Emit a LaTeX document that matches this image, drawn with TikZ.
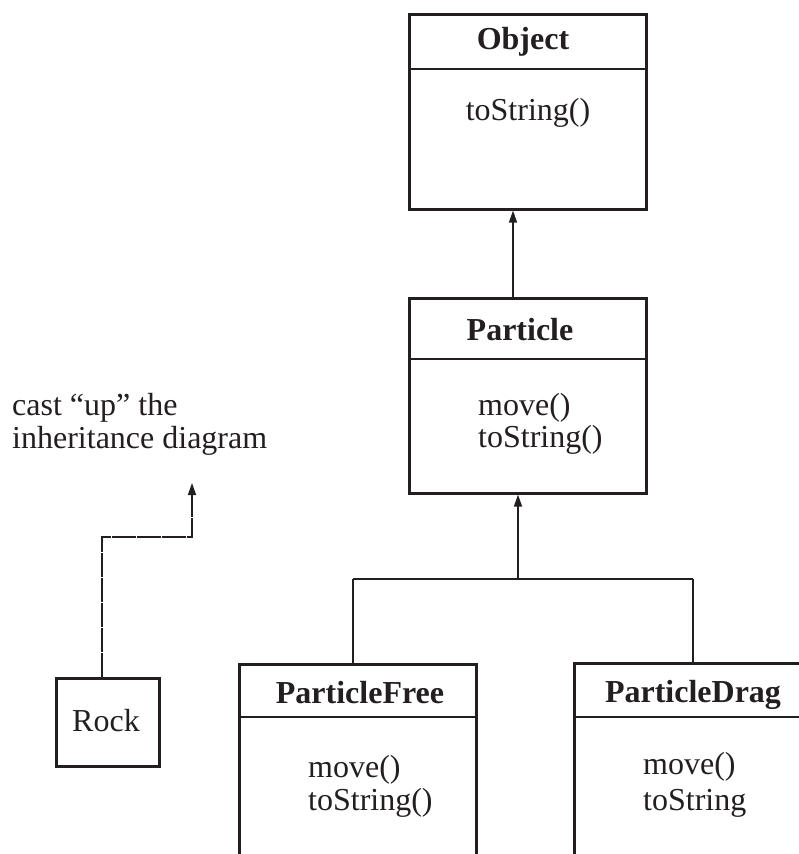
\documentclass[tikz,border=0pt]{standalone}
\usepackage{fontspec}
\setmainfont{Liberation Serif}
\usetikzlibrary{arrows.meta}
\definecolor{ink}{HTML}{231F20}
\begin{document}
\begin{tikzpicture}[x=1pt,y=-1pt,
  box/.style={draw=ink,line width=2.6pt,inner sep=0pt,anchor=north west},
  sepline/.style={draw=ink,line width=2pt},
  conn/.style={draw=ink,line width=1.5pt},
  arr/.style={conn,-{Triangle[length=12pt,width=8pt]}},
  dashline/.style={draw=ink,line width=1.5pt,dash pattern=on 24pt off 1pt,-{Triangle[length=12pt,width=8pt]}},
  title/.style={text=ink,font=\fontsize{32}{33}\selectfont\bfseries,inner sep=0pt},
  meth/.style={text=ink,font=\fontsize{32}{33}\selectfont,inner sep=0pt,anchor=west},
  plain/.style={text=ink,font=\fontsize{32}{33}\selectfont,inner sep=0pt},
]
\clip (0,0) rectangle (799,854);
\fill[white] (0,0) rectangle (799,854);
% boxes
\node[box,minimum width=237pt,minimum height=195pt] (object) at (408,13) {};
\node[box,minimum width=237pt,minimum height=195pt] (particle) at (408,297) {};
\node[box,minimum width=237pt,minimum height=240pt] (pfree) at (238,663) {};
\node[box,minimum width=257pt,minimum height=240pt] (pdrag) at (573,662) {};
\node[box,minimum width=103pt,minimum height=88pt] (rock) at (55,677) {};
% separators
\coordinate (sO) at (0,69);
\coordinate (sP) at (0,359);
\coordinate (sPe) at (647,359);
\coordinate (sF) at (0,717);
\coordinate (sD) at (0,717);
\draw[sepline] (object.west |- sO) -- (object.east |- sO);
\draw[sepline] (particle.west |- sP) -- (sPe);
\draw[sepline] (pfree.west |- sF) -- (pfree.east |- sF);
\draw[sepline] (pdrag.west |- sD) -- (pdrag.east |- sD);
% texts
\node[title] (tobj) at (523,42) {Object};
\node[plain] (mobj) at (528,113) {toString()};
\node[title] (tpar) at (520,330) {Particle};
\node[meth] (mpar1) at (478,408) {move()};
\node[meth] (mpar2) at (478,440) {toString()};
\node[title] (tfree) at (360,693) {ParticleFree};
\node[meth] (mfree1) at (308,770) {move()};
\node[meth] (mfree2) at (308,803) {toString()};
\node[title] (tdrag) at (693,695) {ParticleDrag};
\node[meth] (mdrag1) at (643,767) {move()};
\node[meth] (mdrag2) at (643,803) {toString};
\node[plain] (trock) at (106,721) {Rock};
\node[meth] (cast1) at (12,408) {cast “up” the};
\node[meth] (cast2) at (12,441) {inheritance diagram};
% connectors
\coordinate (a1) at (513,0);
\draw[arr] (particle.north -| a1) -- (object.south -| a1);
\coordinate (jn) at (518,579);
\coordinate (jl) at (353,579);
\coordinate (jr) at (693,579);
\draw[arr] (jn) -- (particle.south -| jn);
\draw[conn] (jl) -- (jr);
\draw[conn] (jl) -- (pfree.north -| jl);
\draw[conn] (jr) -- (pdrag.north -| jr);
% dashed cast path
\coordinate (d1) at (102,537);
\coordinate (d2) at (192,537);
\coordinate (dtip) at (192,483);
\draw[dashline] (rock.north -| d1) -- (d1) -- (d2) -- (dtip);
\end{tikzpicture}
\end{document}
